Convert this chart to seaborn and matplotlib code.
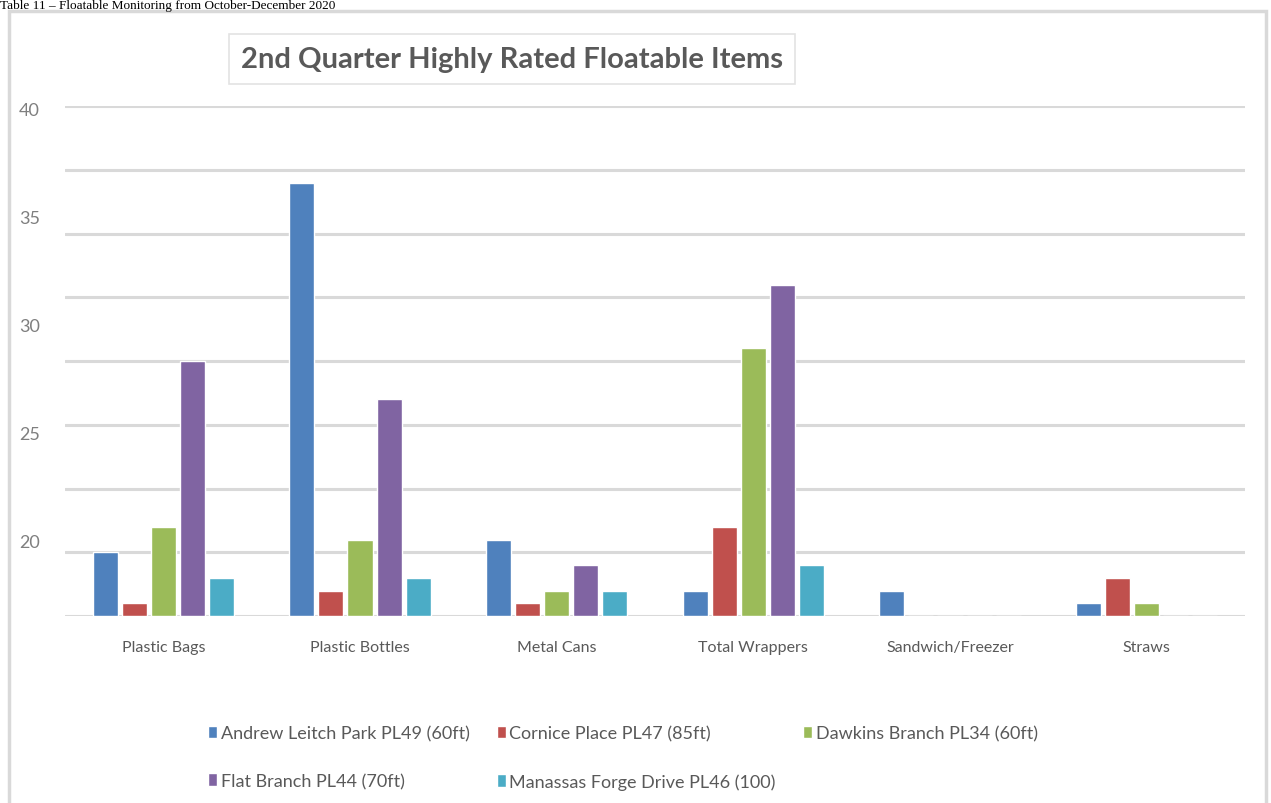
import matplotlib
matplotlib.use("Agg")
import matplotlib.pyplot as plt
import seaborn as sns
import pandas as pd
import numpy as np
from matplotlib.patches import Rectangle

# ---- data ----
categories = ["Plastic Bags", "Plastic Bottles", "Metal Cans", "Total Wrappers",
              "Sandwich/Freezer", "Straws"]
sites = ["Andrew Leitch Park PL49 (60ft)", "Cornice Place PL47 (85ft)",
         "Dawkins Branch PL34 (60ft)", "Flat Branch PL44 (70ft)",
         "Manassas Forge Drive PL46 (100)"]
andrew = [5, 34, 6, 2, 2, 1]
cornice = [1, 2, 1, 7, 0, 3]
dawkins = [7, 6, 2, 21, 0, 1]
flat = [20, 17, 4, 26, 0, 0]
manassas = [3, 3, 2, 4, 0, 0]
ytick_labels = ["40", "35", "30", "25", "20"]

colors = ["#4F81BD", "#C0504D", "#9BBB59", "#8064A2", "#4BACC6"]

series = [andrew, cornice, dawkins, flat, manassas]
rows = []
for s, vals in zip(sites, series):
    for c, v in zip(categories, vals):
        rows.append({"item": c, "site": s, "count": v})
df = pd.DataFrame(rows)

sns.set_theme(style="white")
plt.rcParams['font.family'] = ['Lato', 'DejaVu Sans']

W, H = 1271, 804
fig = plt.figure(figsize=(W / 100, H / 100), dpi=100)
fig.patch.set_facecolor("white")

ax = fig.add_axes([65 / W, 1 - 617 / H, (1245 - 65) / W, (617 - 107) / H])
sns.barplot(data=df, x="item", y="count", hue="site", order=categories,
            hue_order=sites, palette=colors, width=0.74, gap=0.14,
            saturation=1, ax=ax, errorbar=None)

ax.set_ylim(0, 40)
ax.set_xlim(-0.5, len(categories) - 0.5)
ax.set_xlabel("")
ax.set_ylabel("")
for sp in ax.spines.values():
    sp.set_visible(False)

# gridlines every 5 units (minor ticks), labels as they appear in the picture
ax.set_yticks(np.arange(0, 41, 5), minor=True)
ax.yaxis.grid(True, which="minor", color="#d9d9d9", linewidth=2.2)
ax.yaxis.grid(False, which="major")
ax.set_axisbelow(True)
label_pos = np.linspace(39.8, 5.9, len(ytick_labels))
ax.set_yticks(label_pos)
ax.set_yticklabels(ytick_labels)
ax.tick_params(axis="y", which="both", length=0, pad=18, labelsize=13,
               labelcolor="#7f7f7f")
ax.tick_params(axis="x", length=0, pad=17, labelsize=11.5, labelcolor="#595959")

# legend
handles, labels = ax.get_legend_handles_labels()
ax.get_legend().remove()
order = [0, 3, 1, 4, 2]
fig.legend([handles[i] for i in order], [labels[i] for i in order],
           loc="upper left", bbox_to_anchor=(192 / W, 1 - 710 / H),
           ncol=3, frameon=False, fontsize=13, labelcolor="#595959",
           handlelength=0.5, handleheight=0.7, handletextpad=0.2,
           columnspacing=1.5, labelspacing=1.75)

# title in a light box
fig.text(512 / W, 1 - 60 / H, "2nd Quarter Highly Rated Floatable Items",
         ha="center", va="center", fontsize=21, fontweight="bold",
         color="#595959",
         bbox=dict(boxstyle="square,pad=0.4", facecolor="white",
                   edgecolor="#e3e3e3", linewidth=1.2))

# outer chart frame
fig.patches.append(Rectangle((9 / W, -0.02), (1266 - 9) / W, 1.02 - 12 / H,
                             transform=fig.transFigure, fill=False,
                             edgecolor="#d9d9d9", linewidth=2.5))

# document caption above the chart frame
fig.text(0.0, 1 - 9 / H, "Table 11 \u2013 Floatable Monitoring from October-December 2020",
         ha="left", va="baseline", fontsize=9.5, family="Liberation Serif",
         color="black")

fig.savefig("out.png", dpi=100, facecolor="white")
